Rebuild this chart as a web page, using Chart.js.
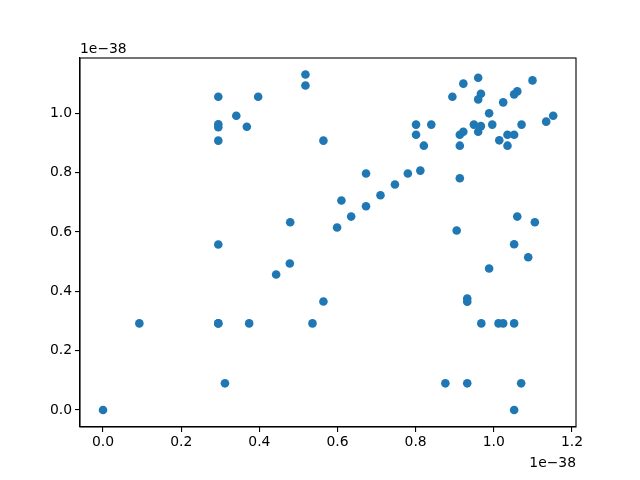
<!DOCTYPE html>
<html>
<head>
<meta charset="utf-8">
<script src="https://cdn.jsdelivr.net/npm/chart.js@4"></script>
<style>
html,body{margin:0;padding:0;background:#fff;}
#wrap{width:640px;height:480px;}
</style>
</head>
<body>
<div id="wrap"><canvas id="c" width="640" height="480"></canvas></div>
<script>
// Values in units of 1e-38
const SCALE_LABEL = "1e\u221238";
const xValues = [
  0.000, 0.093, 0.295, 0.295, 0.312, 0.295, 0.374,
  0.295, 0.341, 0.295, 0.295, 0.368, 0.295,
  0.397, 0.518, 0.518, 0.564, 0.673, 0.780, 0.747, 0.710, 0.610, 0.673, 0.635, 0.479, 0.599,
  0.478, 0.443, 0.564, 0.536,
  0.960, 0.922, 1.099, 0.894, 0.967, 0.960, 1.060, 1.052, 1.024, 0.988,
  0.801, 0.840, 0.801, 0.821, 0.913, 0.922, 0.913,
  0.949, 0.967, 0.960, 0.996, 1.014, 1.035, 1.052, 1.035, 1.071, 1.134, 1.152,
  0.812, 0.913, 1.060, 1.105, 0.905, 1.052,
  1.088, 0.988, 0.932, 0.932, 0.968, 1.012, 1.024, 1.052,
  0.876, 0.932, 1.070, 1.052
];
const yValues = [
  0.000, 0.292, 0.292, 0.292, 0.090, 0.558, 0.292,
  1.056, 0.992, 0.963, 0.953, 0.955, 0.908,
  1.056, 1.131, 1.094, 0.908, 0.797, 0.797, 0.760, 0.724, 0.706, 0.687, 0.652, 0.633, 0.615,
  0.494, 0.457, 0.366, 0.292,
  1.120, 1.100, 1.111, 1.056, 1.066, 1.047, 1.074, 1.064, 1.037, 1.000,
  0.962, 0.962, 0.928, 0.891, 0.928, 0.938, 0.891,
  0.962, 0.957, 0.938, 0.962, 0.909, 0.928, 0.928, 0.891, 0.962, 0.972, 0.992,
  0.807, 0.781, 0.652, 0.633, 0.605, 0.559,
  0.515, 0.477, 0.376, 0.365, 0.292, 0.292, 0.292, 0.292,
  0.090, 0.090, 0.090, 0.000
];
const xTicks = [0.0, 0.2, 0.4, 0.6, 0.8, 1.0, 1.2];
const yTicks = [0.0, 0.2, 0.4, 0.6, 0.8, 1.0];
const xRange = [-0.0589, 1.2103];
const yRange = [-0.0572, 1.1865];

const points = xValues.map((x, i) => ({x: x, y: yValues[i]}));
const FONT = {family: "'DejaVu Sans'", size: 13.9};

const frame = {
  id: 'frame',
  afterDraw(chart) {
    const {ctx, chartArea: a} = chart;
    ctx.save();
    ctx.strokeStyle = '#000';
    ctx.lineWidth = 1.1;
    ctx.strokeRect(a.left, a.top, a.right - a.left, a.bottom - a.top);
    ctx.fillStyle = '#000';
    ctx.font = "13.9px 'DejaVu Sans'";
    ctx.textAlign = 'left';
    ctx.textBaseline = 'alphabetic';
    ctx.fillText(SCALE_LABEL, a.left, a.top - 5);
    ctx.textAlign = 'right';
    ctx.fillText(SCALE_LABEL, a.right, 467);
    ctx.restore();
  }
};

new Chart(document.getElementById('c'), {
  type: 'scatter',
  data: {
    datasets: [{
      data: points,
      backgroundColor: '#1f77b4',
      borderColor: '#1f77b4',
      borderWidth: 0,
      pointRadius: 4.3,
      pointHoverRadius: 4.3
    }]
  },
  options: {
    responsive: false,
    animation: false,
    events: [],
    layout: {padding: {left: 0, right: 64, top: 58, bottom: 0}},
    plugins: {legend: {display: false}, tooltip: {enabled: false}},
    scales: {
      x: {
        type: 'linear',
        min: xRange[0], max: xRange[1],
        afterBuildTicks: s => { s.ticks = xTicks.map(v => ({value: v})); },
        afterFit: s => { s.height = 53; },
        ticks: {
          font: FONT, color: '#000', padding: 2,
          callback: v => v.toFixed(1)
        },
        grid: {display: true, drawOnChartArea: false, drawTicks: true, tickLength: 5, color: '#000', lineWidth: 1.1},
        border: {display: true, color: '#000', width: 1.1}
      },
      y: {
        type: 'linear',
        min: yRange[0], max: yRange[1],
        afterBuildTicks: s => { s.ticks = yTicks.map(v => ({value: v})); },
        afterFit: s => { s.width = 80; },
        ticks: {
          font: FONT, color: '#000', padding: 3,
          callback: v => v.toFixed(1)
        },
        grid: {display: true, drawOnChartArea: false, drawTicks: true, tickLength: 5, color: '#000', lineWidth: 1.1},
        border: {display: true, color: '#000', width: 1.1}
      }
    }
  },
  plugins: [frame]
});
</script>
</body>
</html>
